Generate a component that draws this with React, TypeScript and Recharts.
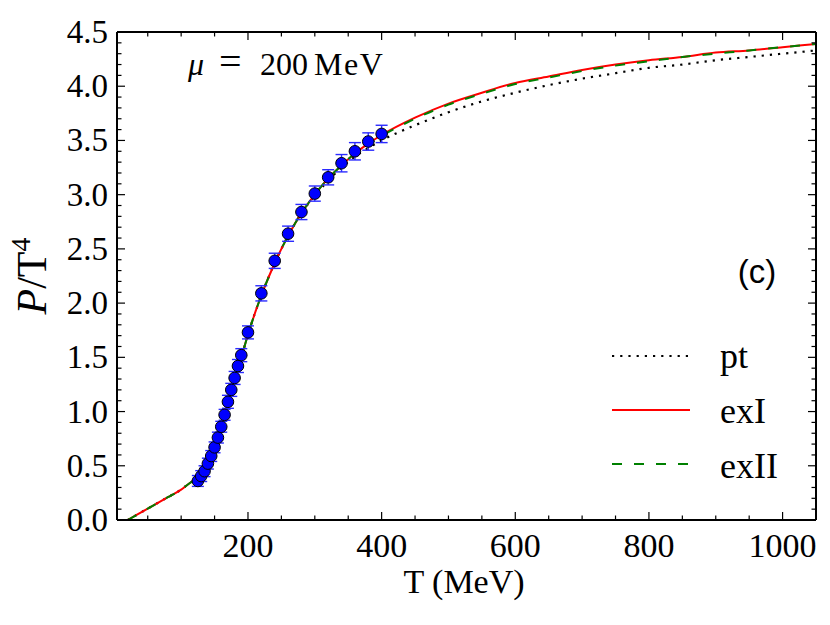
import { ComposedChart, ErrorBar, Line, Scatter, XAxis, YAxis } from "recharts";

// model curves, P/T^4 vs T (MeV)
const curveT = [20, 40, 60, 80, 100, 115, 125, 130, 140, 150, 160, 170, 180, 190, 200, 210, 220, 240, 260, 280, 300, 320, 340, 360, 380, 400, 450, 500, 550, 600, 650, 700, 750, 800, 850, 900, 950, 1000, 1050];
const exI = [0.0, 0.07, 0.14, 0.21, 0.28, 0.35, 0.38, 0.41, 0.51, 0.66, 0.86, 1.08, 1.3, 1.5, 1.71, 1.9, 2.07, 2.37, 2.62, 2.83, 3.0, 3.15, 3.27, 3.38, 3.47, 3.55, 3.71, 3.84, 3.94, 4.03, 4.09, 4.15, 4.2, 4.24, 4.27, 4.31, 4.33, 4.36, 4.39];
const exII = [0.0, 0.07, 0.14, 0.21, 0.28, 0.35, 0.38, 0.41, 0.51, 0.66, 0.86, 1.08, 1.3, 1.5, 1.71, 1.9, 2.07, 2.37, 2.62, 2.83, 3.0, 3.15, 3.27, 3.38, 3.46, 3.54, 3.7, 3.83, 3.93, 4.02, 4.08, 4.14, 4.19, 4.23, 4.27, 4.3, 4.33, 4.36, 4.39];
const pt = [0.0, 0.07, 0.14, 0.21, 0.28, 0.35, 0.38, 0.41, 0.51, 0.66, 0.86, 1.08, 1.3, 1.5, 1.71, 1.9, 2.07, 2.37, 2.62, 2.83, 2.99, 3.13, 3.25, 3.35, 3.43, 3.5, 3.64, 3.76, 3.86, 3.94, 4.01, 4.07, 4.12, 4.17, 4.2, 4.24, 4.27, 4.3, 4.33];

// lattice points
const latticeT = [125, 130, 135, 140, 145, 150, 155, 160, 165, 170, 175, 180, 185, 190, 200, 220, 240, 260, 280, 300, 320, 340, 360, 380, 400];
const latticeP = [0.36, 0.405, 0.45, 0.52, 0.59, 0.67, 0.76, 0.86, 0.97, 1.09, 1.2, 1.31, 1.42, 1.52, 1.73, 2.09, 2.39, 2.64, 2.84, 3.01, 3.16, 3.29, 3.4, 3.49, 3.56];
const latticeErr = [0.05, 0.05, 0.05, 0.05, 0.05, 0.05, 0.05, 0.05, 0.05, 0.06, 0.06, 0.06, 0.06, 0.06, 0.06, 0.07, 0.07, 0.07, 0.07, 0.07, 0.07, 0.08, 0.08, 0.08, 0.08];

const xMajor = [200, 400, 600, 800, 1000];
const yMajor = [0, 0.5, 1, 1.5, 2, 2.5, 3, 3.5, 4, 4.5];

const legendItems = [
  { name: "pt", color: "#000000", dash: "2.2 6" },
  { name: "exI", color: "#ff0000", dash: undefined },
  { name: "exII", color: "#008000", dash: "10 12" },
];

const curveData = curveT.map((T, i) => ({ T, exI: exI[i], exII: exII[i], pt: pt[i] }));
const latticeData = latticeT.map((T, i) => ({ T, P: latticeP[i], err: latticeErr[i] }));

// minor ticks every 50 MeV / 0.1
const xTicks: number[] = [];
for (let v = 50; v <= 1050; v += 50) xTicks.push(v);
const yTicks: number[] = [];
for (let i = 0; i <= 45; i++) yTicks.push(i / 10);

const SERIF = "'Liberation Serif', 'Times New Roman', serif";
const SANS = "'Liberation Sans', Arial, sans-serif";
const MAJOR = 8;
const MINOR = 4.5;
const X_DOMAIN: [number, number] = [4, 1050];
const Y_DOMAIN: [number, number] = [0, 4.5];

const isMajorY = (v: number) => yMajor.some((m) => Math.abs(m - v) < 1e-6);

function BottomTick({ x, y, payload }: any) {
  const major = xMajor.includes(payload.value);
  return (
    <g>
      <line x1={x} x2={x} y1={y} y2={y - (major ? MAJOR : MINOR)} stroke="#000" strokeWidth={1.2} />
      {major && (
        <text x={x} y={y + 37} textAnchor="middle" fontSize={34} fontFamily={SERIF} fill="#000">
          {payload.value}
        </text>
      )}
    </g>
  );
}

function TopTick({ x, y, payload }: any) {
  const major = xMajor.includes(payload.value);
  return <line x1={x} x2={x} y1={y} y2={y + (major ? MAJOR : MINOR)} stroke="#000" strokeWidth={1.2} />;
}

function LeftTick({ x, y, payload }: any) {
  const major = isMajorY(payload.value);
  return (
    <g>
      <line x1={x} x2={x + (major ? MAJOR : MINOR)} y1={y} y2={y} stroke="#000" strokeWidth={1.2} />
      {major && (
        <text x={x - 9} y={y + 11} textAnchor="end" fontSize={33} fontFamily={SERIF} fill="#000">
          {payload.value.toFixed(1)}
        </text>
      )}
    </g>
  );
}

function RightTick({ x, y, payload }: any) {
  const major = isMajorY(payload.value);
  return <line x1={x} x2={x - (major ? MAJOR : MINOR)} y1={y} y2={y} stroke="#000" strokeWidth={1.2} />;
}

const dot = (props: { cx?: number; cy?: number }) => (
  <circle cx={props.cx} cy={props.cy} r={5.8} fill="#0000ff" stroke="#000" strokeWidth={1} />
);

export default function App() {
  return (
    <div style={{ position: "fixed", left: 0, top: 0, width: 830, height: 625, background: "#fff" }}>
      <ComposedChart
        width={830}
        height={625}
        data={curveData}
        margin={{ top: 31, right: 13, bottom: 0, left: 0 }}
      >
        <XAxis
          dataKey="T"
          type="number"
          domain={X_DOMAIN}
          allowDataOverflow
          ticks={xTicks}
          interval={0}
          height={105}
          tickSize={0}
          tickMargin={0}
          tickLine={false}
          tick={BottomTick}
          axisLine={{ stroke: "#000", strokeWidth: 2 }}
        />
        <XAxis
          xAxisId="top"
          orientation="top"
          dataKey="T"
          type="number"
          domain={X_DOMAIN}
          allowDataOverflow
          ticks={xTicks}
          interval={0}
          height={1}
          tickSize={0}
          tickMargin={0}
          tickLine={false}
          tick={TopTick}
          axisLine={{ stroke: "#000", strokeWidth: 2 }}
        />
        <YAxis
          type="number"
          domain={Y_DOMAIN}
          allowDataOverflow
          ticks={yTicks}
          interval={0}
          width={117}
          tickSize={0}
          tickMargin={0}
          tickLine={false}
          tick={LeftTick}
          axisLine={{ stroke: "#000", strokeWidth: 2 }}
        />
        <YAxis
          yAxisId="right"
          orientation="right"
          type="number"
          domain={Y_DOMAIN}
          allowDataOverflow
          ticks={yTicks}
          interval={0}
          width={1}
          tickSize={0}
          tickMargin={0}
          tickLine={false}
          tick={RightTick}
          axisLine={{ stroke: "#000", strokeWidth: 2 }}
        />
        <Line dataKey="pt" type="monotone" stroke="#000" strokeWidth={2.2} strokeDasharray="2.2 6" dot={false} isAnimationActive={false} />
        <Line dataKey="exI" type="monotone" stroke="#ff0000" strokeWidth={2} dot={false} isAnimationActive={false} />
        <Line dataKey="exII" type="monotone" stroke="#008000" strokeWidth={2} strokeDasharray="10 12" dot={false} isAnimationActive={false} />
        <Scatter data={latticeData} dataKey="P" shape={dot} isAnimationActive={false}>
          <ErrorBar dataKey="err" direction="y" width={6} stroke="#2a2aff" strokeWidth={1.4} isAnimationActive={false} />
        </Scatter>
      </ComposedChart>

      <svg width={830} height={625} style={{ position: "absolute", left: 0, top: 0, pointerEvents: "none" }}>
        <text y={75} fontSize={32} fontFamily={SERIF} fill="#000">
          <tspan x={188} fontStyle="italic">μ</tspan>
          <tspan x={219} fontSize={40}>=</tspan>
          <tspan x={260}>200</tspan>
          <tspan x={314} letterSpacing={1.5}>MeV</tspan>
        </text>
        <text x={757} y={283} textAnchor="middle" fontSize={33} fontFamily={SANS} fill="#000">
          (c)
        </text>
        {legendItems.map((item, i) => (
          <g key={item.name}>
            <line
              x1={612}
              x2={690}
              y1={356 + i * 54}
              y2={356 + i * 54}
              stroke={item.color}
              strokeWidth={2}
              strokeDasharray={item.dash}
            />
            <text x={720} y={368 + i * 55} fontSize={36} fontFamily={SERIF} fill="#000">
              {item.name}
            </text>
          </g>
        ))}
        <text x={464} y={593} textAnchor="middle" fontSize={34} fontFamily={SERIF} fill="#000">
          T (MeV)
        </text>
        <text transform="translate(46, 276) rotate(-90)" textAnchor="middle" fontSize={42} fontFamily={SERIF} fill="#000">
          <tspan fontStyle="italic">P</tspan>
          <tspan>/T</tspan>
          <tspan dy={-16} fontSize={28}>4</tspan>
        </text>
      </svg>
    </div>
  );
}
